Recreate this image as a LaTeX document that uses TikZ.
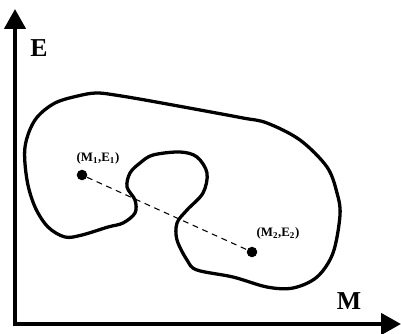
\documentclass[tikz,border=0pt]{standalone}
\usepackage{fontspec}
\setmainfont{Liberation Serif}
\usetikzlibrary{arrows.meta,positioning}

\begin{document}
\begin{tikzpicture}[
    x=0.03cm, y=-0.03cm,
    axis/.style={line width=3.4pt, -{Triangle[length=17pt,width=18pt]}},
    region/.style={line width=2.8pt, line join=round},
    pt/.style={circle, fill=black, inner sep=0pt, minimum size=9pt},
    ptlabel/.style={font=\fontsize{11}{13}\selectfont\bfseries, inner sep=0pt},
    axlabel/.style={font=\fontsize{22}{24}\selectfont\bfseries, inner sep=0pt},
    link/.style={dashed, line width=0.9pt, dash pattern=on 5pt off 4pt}
]
    \useasboundingbox (0,0) rectangle (401,333);
    \coordinate (origin) at (15,324);
    \coordinate (etop) at (15,9);
    \coordinate (mend) at (401,324);

    \draw[axis] (origin) -- (etop);
    \draw[axis] ([xshift=-1.7pt]origin) -- (mend);
    \node[axlabel] (elabel) at (39,48) {E};
    \node[axlabel] (mlabel) at (349,301) {M};

    % region of states
    \draw[region] plot[smooth cycle, tension=0.55] coordinates {
        (25,147) (35,120) (55,103) (82,95) (98,93) (115,95) (145,100)
        (200,110) (243,118) (267,123) (300,140) (327,167) (337,193)
        (340,215) (333,253) (317,277) (293,288) (267,287) (233,277)
        (197,270) (187,260) (177,240) (177,223) (187,210) (203,193)
        (207,173) (197,157) (180,152) (153,155) (140,163) (130,173)
        (127,187) (135,200) (135,213) (123,223) (108,227) (82,235)
        (65,237) (48,227) (35,207) (27,180)};

    \node[pt] (p1) at (82,175) {};
    \node[pt] (p2) at (252,252) {};
    \node[ptlabel] (l1) at (98,158) {(M$_{\mathbf{1}}$,E$_{\mathbf{1}}$)};
    \node[ptlabel] (l2) at (278,233) {(M$_{\mathbf{2}}$,E$_{\mathbf{2}}$)};
    \draw[link] (p1) -- (p2);
\end{tikzpicture}
\end{document}
